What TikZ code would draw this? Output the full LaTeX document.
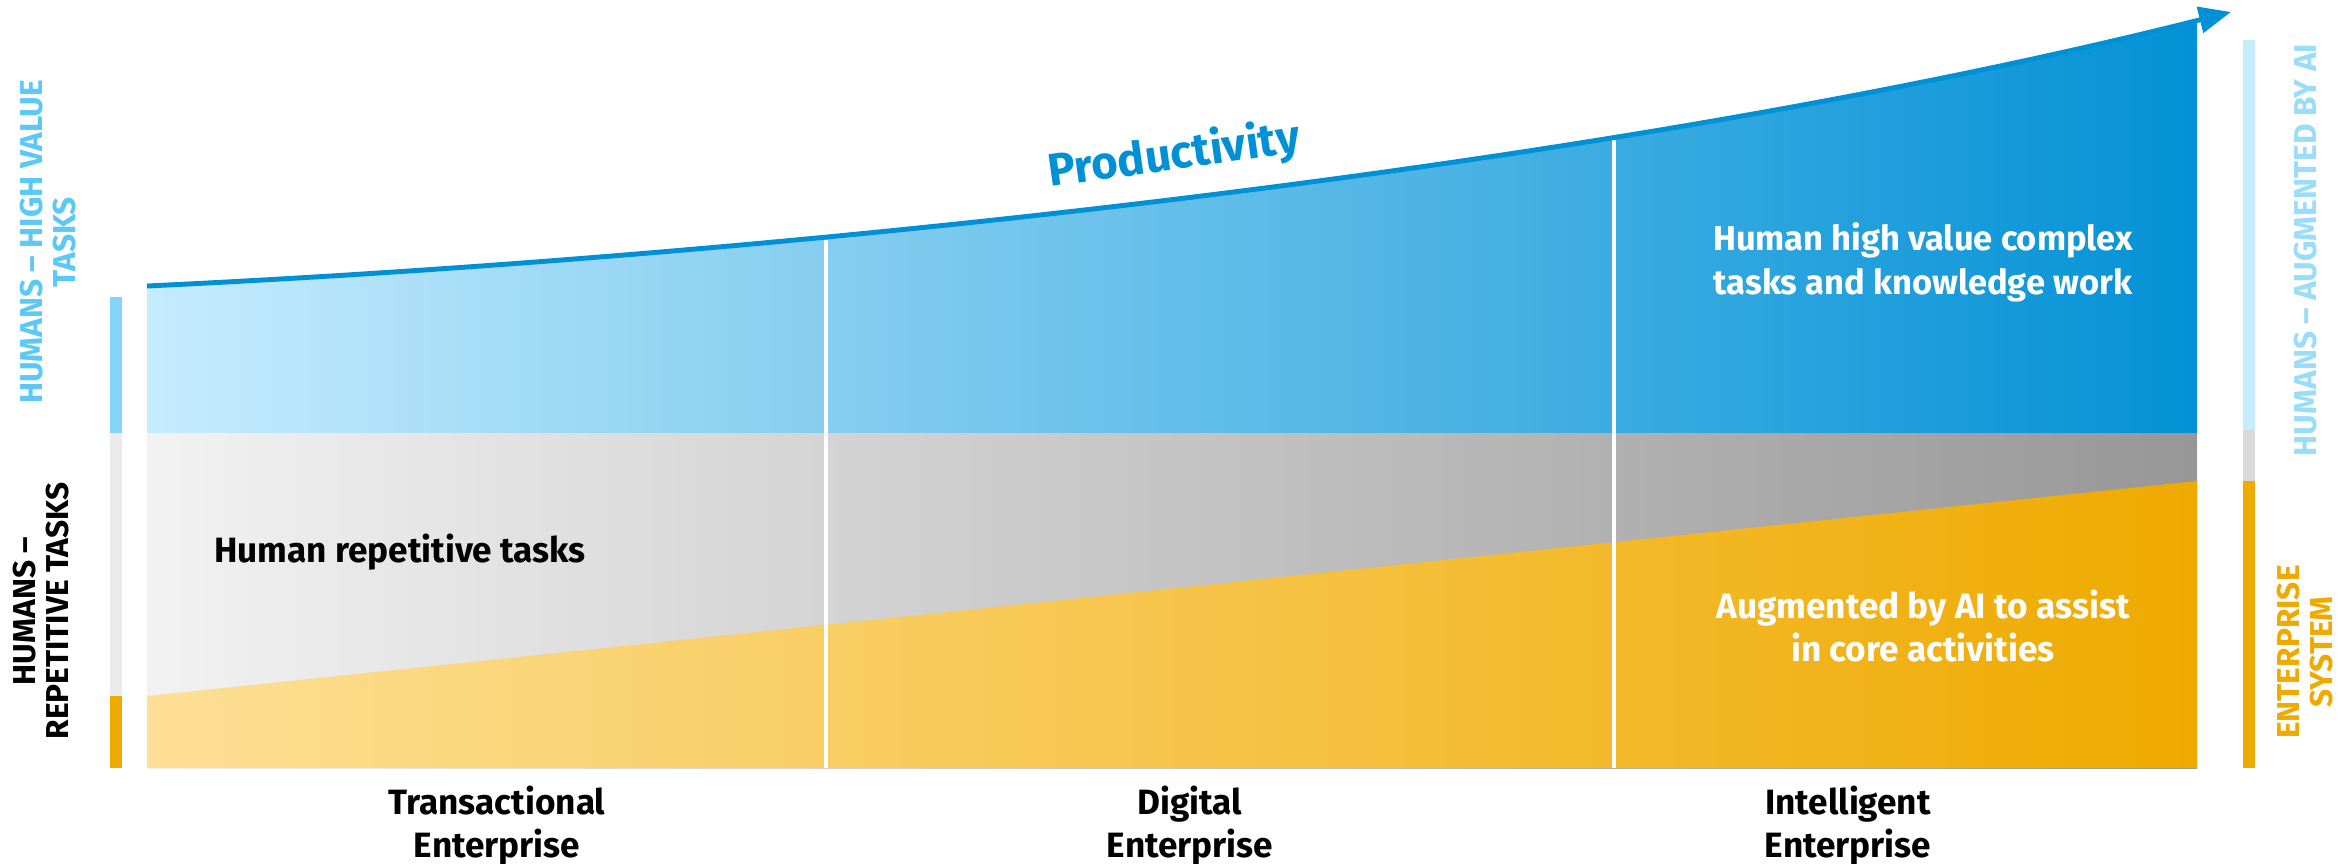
\documentclass[tikz,border=0pt]{standalone}
\usepackage{fontspec}
\setmainfont{Fira Sans}
\newfontfamily\bodyfont{Fira Sans}
\newfontfamily\sidefont{Fira Sans}
\usetikzlibrary{arrows.meta,calc}

\definecolor{prodblue}{HTML}{0090D5}
\definecolor{skyblue}{HTML}{C6ECFD}
\definecolor{hvblue}{HTML}{85D4FA}
\definecolor{lightgrey}{HTML}{F2F2F2}
\definecolor{darkgrey}{HTML}{979797}
\definecolor{bargrey}{HTML}{EBEBEB}
\definecolor{aigrey}{HTML}{D9D9D9}
\definecolor{paleorange}{HTML}{FDDF95}
\definecolor{midorange}{HTML}{F8C66A}
\definecolor{deeporange}{HTML}{EFAA00}
\definecolor{labelblue}{HTML}{5CC8F7}
\definecolor{aiblue}{HTML}{9ADDFA}

\begin{document}
\begin{tikzpicture}[x=0.01cm,y=-0.01cm,
  body/.style={font=\bodyfont\bfseries\fontsize{10}{12.2}\selectfont,
    align=center,inner sep=0pt},
  era/.style={body,text=black},
  side/.style={font=\sidefont\bfseries\fontsize{9}{9.2}\selectfont,
    align=center,inner sep=0pt,rotate=90},
  divider/.style={white,line width=1.2pt}]
\useasboundingbox (0,0) rectangle (2352,863);

% end points of the productivity curve
\coordinate (pstart) at (147,286);
\coordinate (pend) at (2231,12);

% three bands
\begin{scope}
\clip (147,0) rectangle (2197,433);
\shade[left color=skyblue,right color=prodblue]
  (pstart) .. controls (800,255) and (1620,166) .. (pend)
  -- (2231,433) -- (147,433) -- cycle;
\end{scope}
\shade[left color=lightgrey,right color=darkgrey] (147,433) rectangle (2197,768);
\shade[left color=paleorange,middle color=midorange,right color=deeporange]
  (147,696) -- (2197,481) -- (2197,768) -- (147,768) -- cycle;

\draw[divider] (826,240) -- (826,768);
\draw[divider] (1614,140) -- (1614,768);

\draw[prodblue,line width=1.4pt,-{Triangle[length=0.32cm,width=0.26cm]}]
  (pstart) .. controls (800,255) and (1620,166) .. (pend);

% side bars
\fill[hvblue] (110,297) rectangle (122,433);
\fill[bargrey] (110,433) rectangle (122,696);
\fill[deeporange] (110,696) rectangle (122,768);
\fill[skyblue] (2243,40) rectangle (2255,430);
\fill[aigrey] (2243,430) rectangle (2255,481);
\fill[deeporange] (2243,481) rectangle (2255,768);

% labels
\node[font=\bodyfont\bfseries\fontsize{13}{13}\selectfont,text=prodblue,rotate=8]
  (prod) at (1174,156) {Productivity};
\node[body,text=black] (reptasks) at (400,552) {Human repetitive tasks};
\node[body,text=white,font=\bodyfont\bfseries\fontsize{9.8}{12.5}\selectfont]
  (hvtasks) at (1923,262) {Human high value complex\\tasks and knowledge work};
\node[body,text=white] (aitasks) at (1923,626) {Augmented by AI to assist\\in core activities};

\node[era] (trans) at (497,826) {Transactional\\Enterprise};
\node[era] (digital) at (1190,826) {Digital\\Enterprise};
\node[era] (intel) at (1848,826) {Intelligent\\Enterprise};

\node[side,text=labelblue] (hvside) at (48,242) {HUMANS – HIGH VALUE\\TASKS};
\node[side,text=black] (repside) at (41,611) {HUMANS –\\REPETITIVE TASKS};
\node[side,text=aiblue] (aiside) at (2305,250) {HUMANS – AUGMENTED BY AI};
\node[side,text=deeporange] (entside) at (2305,652) {ENTERPRISE\\SYSTEM};
\end{tikzpicture}
\end{document}
